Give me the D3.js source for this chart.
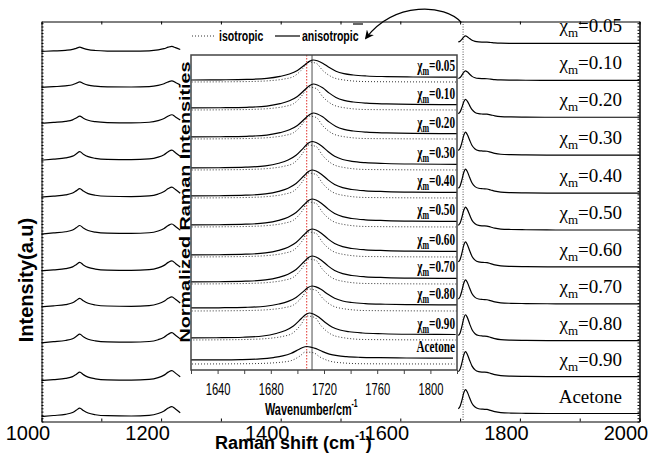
<!DOCTYPE html>
<html>
<head>
<meta charset="utf-8">
<script src="https://cdn.jsdelivr.net/npm/d3@7"></script>
<style>
  body { margin: 0; background: #fff; }
  svg { display: block; }
</style>
</head>
<body>
<svg id="chart" width="652" height="454"></svg>
<script>
// row names, top to bottom
var rowLabels = ["0.05", "0.10", "0.20", "0.30", "0.40", "0.50", "0.60", "0.70", "0.80", "0.90", "Acetone"];
var mainTicks = [1000, 1200, 1400, 1600, 1800, 2000];
var insetTicks = [1640, 1680, 1720, 1760, 1800];

var leftWn    = [1000, 1020, 1040, 1052, 1058, 1064, 1070, 1078, 1090, 1110, 1150, 1180, 1195, 1205, 1212, 1218, 1224, 1232];
var leftShape = [0, 0.1, 0.22, 0.4, 0.62, 0.85, 0.6, 0.35, 0.18, 0.08, 0.05, 0.12, 0.3, 0.55, 0.85, 1.0, 0.75, 0.38];
var leftBase  = [37.1, 33.5, 29.9, 26.2, 22.5, 18.8, 15.1, 11.5, 7.9, 4.1, 0.5];
var leftScale = [0.5, 0.65, 0.85, 1, 1, 1, 1, 1, 1, 1, 1];

// main plot, C=O region
var rightWn    = [1697, 1700, 1703, 1706, 1709, 1712, 1716, 1720, 1725, 1731, 1738, 1745, 1751, 1758, 1768, 1785, 1810, 1860, 2000];
var rightShape = [0.2, 0.3, 0.55, 0.85, 1.0, 0.9, 0.65, 0.42, 0.27, 0.2, 0.18, 0.17, 0.13, 0.08, 0.04, 0.02, 0.01, 0, 0];
var rightBase  = [37.9, 34.2, 30.5, 26.7, 22.9, 19.2, 15.5, 11.8, 8.1, 4.5, 0.8];
var rightPeak  = [0.75, 0.95, 1.8, 2.3, 2.4, 2.3, 2.5, 2.4, 2.6, 2.5, 2.4];

// inset: anisotropic (solid)
var anisoDx     = [-95, -70, -50, -35, -25, -18, -12, -6, -3, 0, 3, 7, 12, 17, 23, 30, 40, 55, 75, 110];
var anisoShape  = [0, 0.01, 0.03, 0.08, 0.18, 0.3, 0.48, 0.78, 0.93, 1.0, 0.96, 0.84, 0.62, 0.44, 0.32, 0.25, 0.2, 0.17, 0.15, 0.14];
var anisoBase   = [29.0, 26.2, 23.3, 20.2, 17.4, 14.5, 11.5, 8.8, 6.2, 3.2, 1.0];
var anisoPeak   = [2.0, 2.4, 2.4, 2.65, 2.6, 2.6, 2.6, 2.6, 2.2, 2.5, 1.35];
var anisoCenter = [1712, 1712, 1712, 1711, 1711, 1711, 1711, 1711, 1711, 1709, 1707];

// inset: isotropic (dotted)
var isoDx     = [-92, -60, -40, -28, -18, -11, -4, 0, 6, 11, 18, 26, 44, 112];
var isoShape  = [0, 0.01, 0.03, 0.07, 0.15, 0.27, 0.67, 1, 0.94, 0.58, 0.25, 0.11, 0.02, 0];
var isoBase   = [28.8, 26.0, 23.1, 20.0, 17.2, 14.3, 11.3, 8.6, 5.9, 3.0, 0.6];
var isoPeak   = [2.0, 2.3, 2.3, 2.5, 2.5, 2.5, 2.5, 2.5, 2.2, 2.4, 1.2];
var isoCenter = [1708, 1708, 1708, 1708, 1708, 1708, 1708, 1708, 1708, 1707, 1706];

var SANS = "'Liberation Sans', Arial, sans-serif";
var SERIF = "'Liberation Serif', 'Times New Roman', serif";

var svg = d3.select("#chart");

var x = d3.scaleLinear().domain([1000, 2000]).range([41.5, 639.5]);
var y = d3.scaleLinear().domain([0, 40.1]).range([421.5, 21.5]);

var line = d3.line()
  .x(function(d) { return x(d[0]); })
  .y(function(d) { return y(d[1]); })
  .curve(d3.curveMonotoneX);

// main frame and axes
svg.append("g").attr("transform", "translate(0," + y(0) + ")")
  .call(d3.axisBottom(x).tickValues(d3.range(1000, 2001, 100)).tickSizeInner(-3).tickSizeOuter(0).tickFormat(""));
var labelAxis = svg.append("g").attr("transform", "translate(0," + y(0) + ")")
  .call(d3.axisBottom(x).tickValues(mainTicks).tickSize(0).tickPadding(4).tickFormat(d3.format("d")));
labelAxis.select(".domain").remove();
labelAxis.selectAll("text")
  .attr("dx", -14)
  .style("font-family", SANS).style("font-size", "20px").attr("fill", "#000");

svg.append("g").attr("transform", "translate(0," + y(40.1) + ")")
  .call(d3.axisTop(x).tickValues(d3.range(1000, 2001, 100)).tickSizeInner(-3).tickSizeOuter(0).tickFormat(""));
svg.append("g").attr("transform", "translate(" + x(1000) + ",0)")
  .call(d3.axisLeft(y).tickValues(d3.range(0, 40.1, 0.33)).tickSizeInner(-2).tickSizeOuter(0).tickFormat(""));
svg.append("g").attr("transform", "translate(" + x(2000) + ",0)")
  .call(d3.axisRight(y).tickValues(d3.range(0, 40.1, 0.33)).tickSizeInner(-2).tickSizeOuter(0).tickFormat(""))
  .select(".domain").attr("stroke-width", 1.5);

// dotted marker line at the C=O band
svg.append("line")
  .attr("x1", x(1705)).attr("x2", x(1705))
  .attr("y1", y(40.1)).attr("y2", y(0))
  .attr("stroke", "#555").attr("stroke-width", 1).attr("stroke-dasharray", "1,1.5");

// main spectra
rowLabels.forEach(function(name, i) {
  var lpts = leftWn.map(function(w, j) { return [w, leftBase[i] + leftScale[i] * leftShape[j]]; });
  var rpts = rightWn.map(function(w, j) { return [w, rightBase[i] + rightPeak[i] * rightShape[j]]; });
  svg.append("path").attr("d", line(lpts)).attr("fill", "none").attr("stroke", "#000").attr("stroke-width", 1.2);
  svg.append("path").attr("d", line(rpts)).attr("fill", "none").attr("stroke", "#000").attr("stroke-width", 1.2);

  var t = svg.append("text")
    .attr("x", 622).attr("y", y(rightBase[i]) - 11)
    .attr("text-anchor", "end")
    .style("font-family", SERIF).style("font-size", "19px");
  if (name === "Acetone") {
    t.text(name);
  } else {
    t.append("tspan").text("\u03c7");
    t.append("tspan").attr("dy", 5).style("font-size", "13px").text("m");
    t.append("tspan").attr("dy", -5).text("=" + name);
  }
});

// axis titles
var xt = svg.append("text").attr("x", 215).attr("y", 449)
  .style("font-family", SANS).style("font-size", "18px").style("font-weight", "bold");
xt.append("tspan").text("Raman shift (cm");
xt.append("tspan").attr("dy", -9).style("font-size", "12px").text("-1");
xt.append("tspan").attr("dy", 9).text(")");

svg.append("text")
  .attr("transform", "translate(33,280) rotate(-90)")
  .attr("text-anchor", "middle")
  .style("font-family", SANS).style("font-size", "20px").style("font-weight", "bold")
  .text("Intensity(a.u)");

// ---- inset ----
var ix = d3.scaleLinear().domain([1620, 1820]).range([191, 457]);
var iy = d3.scaleLinear().domain([0, 31.5]).range([370, 55]);

var iline = d3.line()
  .x(function(d) { return ix(d[0]); })
  .y(function(d) { return iy(d[1]); })
  .curve(d3.curveMonotoneX);

svg.append("rect")
  .attr("x", ix(1620)).attr("y", iy(31.5))
  .attr("width", ix(1820) - ix(1620)).attr("height", iy(0) - iy(31.5))
  .attr("fill", "#fff");

svg.append("clipPath").attr("id", "insetClip").append("rect")
  .attr("x", ix(1620)).attr("y", iy(31.5))
  .attr("width", ix(1820) - ix(1620)).attr("height", iy(0) - iy(31.5));

var inset = svg.append("g").attr("clip-path", "url(#insetClip)");

inset.append("line")
  .attr("x1", ix(1707)).attr("x2", ix(1707)).attr("y1", iy(31.5)).attr("y2", iy(0))
  .attr("stroke", "#e0312b").attr("stroke-width", 1).attr("stroke-dasharray", "1.5,1.5");
inset.append("line")
  .attr("x1", ix(1711)).attr("x2", ix(1711)).attr("y1", iy(31.5)).attr("y2", iy(0))
  .attr("stroke", "#777").attr("stroke-width", 1.3);

rowLabels.forEach(function(name, i) {
  var ipts = isoDx.map(function(d, j) { return [isoCenter[i] + d, isoBase[i] + isoPeak[i] * isoShape[j]]; });
  var apts = anisoDx.map(function(d, j) { return [anisoCenter[i] + d, anisoBase[i] + anisoPeak[i] * anisoShape[j]]; });
  inset.append("path").attr("d", iline(ipts)).attr("fill", "none")
    .attr("stroke", "#333").attr("stroke-width", 1).attr("stroke-dasharray", "1,2");
  inset.append("path").attr("d", iline(apts)).attr("fill", "none")
    .attr("stroke", "#000").attr("stroke-width", 1.2);

  var ly = iy(anisoBase[i] + anisoPeak[i] * anisoShape[anisoShape.length - 1]) - 6;
  var t = svg.append("text")
    .attr("transform", "translate(455," + ly + ") scale(0.66,1)")
    .attr("text-anchor", "end")
    .style("font-family", SERIF).style("font-size", "17px").style("font-weight", "bold");
  if (name === "Acetone") {
    t.text(name);
  } else {
    t.append("tspan").text("\u03c7");
    t.append("tspan").attr("dy", 4).style("font-size", "12px").text("m");
    t.append("tspan").attr("dy", -4).text("=" + name);
  }
});

svg.append("rect")
  .attr("x", ix(1620)).attr("y", iy(31.5))
  .attr("width", ix(1820) - ix(1620)).attr("height", iy(0) - iy(31.5))
  .attr("fill", "none").attr("stroke", "#444").attr("stroke-width", 1.5);

var ib = svg.append("g").attr("transform", "translate(0," + iy(0) + ")")
  .call(d3.axisBottom(ix).tickValues(d3.range(1620, 1821, 20)).tickSizeInner(4).tickSizeOuter(0).tickPadding(10)
    .tickFormat(function(d) { return insetTicks.indexOf(d) >= 0 ? d : ""; }));
ib.select(".domain").remove();
ib.selectAll("line").attr("stroke", "#444");
ib.selectAll("text")
  .attr("transform", "scale(0.7,1)")
  .style("font-family", SANS).style("font-size", "16px").attr("fill", "#000");

var wt = svg.append("text")
  .attr("transform", "translate(265,415) scale(0.68,1)")
  .style("font-family", SANS).style("font-size", "16px").style("font-weight", "bold");
wt.append("tspan").text("Wavenumber/cm");
wt.append("tspan").attr("dy", -8).style("font-size", "10px").text("-1");

svg.append("text")
  .attr("transform", "translate(190,202) rotate(-90)")
  .attr("text-anchor", "middle")
  .attr("textLength", 281).attr("lengthAdjust", "spacingAndGlyphs")
  .style("font-family", SANS).style("font-size", "15px").style("font-weight", "bold")
  .text("Normalized Raman Intensities");

// legend
svg.append("line").attr("x1", 192).attr("x2", 215).attr("y1", 36).attr("y2", 36)
  .attr("stroke", "#333").attr("stroke-width", 1).attr("stroke-dasharray", "1,2");
svg.append("text").attr("transform", "translate(219,41) scale(0.75,1)")
  .style("font-family", SANS).style("font-size", "14px").style("font-weight", "bold")
  .text("isotropic");
svg.append("line").attr("x1", 275).attr("x2", 300).attr("y1", 36).attr("y2", 36)
  .attr("stroke", "#000").attr("stroke-width", 1.2);
svg.append("text").attr("transform", "translate(302,41) scale(0.75,1)")
  .style("font-family", SANS).style("font-size", "14px").style("font-weight", "bold")
  .text("anisotropic");
svg.append("line").attr("x1", 353).attr("x2", 363).attr("y1", 24).attr("y2", 24)
  .attr("stroke", "#000").attr("stroke-width", 1.2);

// curved arrow from the C=O band to the legend
svg.append("defs").append("marker")
  .attr("id", "arrowHead").attr("viewBox", "0 0 10 10")
  .attr("refX", 8).attr("refY", 5).attr("markerWidth", 9).attr("markerHeight", 9)
  .attr("markerUnits", "userSpaceOnUse").attr("orient", "auto")
  .append("path").attr("d", "M0,0 L10,5 L0,10 L3,5 Z").attr("fill", "#000");
svg.append("path")
  .attr("d", "M" + x(1702) + "," + (y(40.1) + 1) + " C445,4 395,1 366,38")
  .attr("fill", "none").attr("stroke", "#000").attr("stroke-width", 1.2)
  .attr("marker-end", "url(#arrowHead)");
</script>
</body>
</html>
